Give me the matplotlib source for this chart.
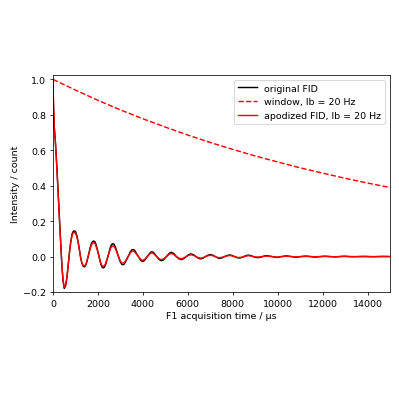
import numpy as np
import matplotlib
matplotlib.use("Agg")
import matplotlib.pyplot as plt

# ── Data ─────────────────────────────────────────────────────────────────────
# acquisition time points (µs)
time_us = [
    0, 20, 50, 100, 150, 200, 250, 300, 350, 400, 450, 500,
    560, 620, 680, 730, 790, 850, 905, 960,
    1015, 1070, 1125, 1175, 1230, 1280, 1335, 1390,
    1445, 1495, 1550, 1600, 1655, 1710, 1760, 1815,
    1870, 1920, 1975, 2030, 2080, 2135, 2185, 2240,
    2295, 2345, 2400, 2455, 2510, 2560, 2615, 2670,
    2725, 2780, 2835, 2890, 2945, 3000, 3055, 3110,
    3165, 3220, 3275, 3335, 3390, 3445, 3500, 3560,
    3615, 3670, 3720, 3775, 3830, 3880, 3935, 3990,
    4040, 4095, 4145, 4195, 4250, 4300, 4350, 4400,
    4455, 4510, 4560, 4615, 4670, 4720, 4775, 4830,
    4885, 4940, 4995, 5050, 5105, 5160, 5215, 5270,
    5380, 5490, 5600, 5710, 5820, 5930, 6040, 6140,
    6250, 6360, 6470, 6570, 6680, 6790, 6900, 7000,
    7110, 7220, 7320, 7420, 7530, 7640, 7750, 7860,
    7970, 8080, 8180, 8280, 8390, 8500, 8600, 8700,
    8800, 8910, 9010, 9110, 9220, 9330, 9430, 9530,
    9745, 9960, 10175, 10390, 10605, 10820, 11035, 11250,
    11465, 11680, 11895, 12110, 12325, 12540, 12755, 12970,
    13185, 13400, 13615, 13830, 14045, 14260, 14475, 14690,
    14905, 15000,
]

original_fid = [
    1.00, 0.86, 0.74, 0.66, 0.56, 0.44, 0.31, 0.18, 0.06, -0.06, -0.14, -0.18,
    -0.165, -0.12, -0.045, 0.02, 0.085, 0.128, 0.143, 0.145,
    0.138, 0.115, 0.08, 0.04, -0.005, -0.035, -0.053, -0.058,
    -0.052, -0.035, -0.008, 0.02, 0.05, 0.073, 0.085, 0.088,
    0.083, 0.066, 0.04, 0.01, -0.02, -0.045, -0.06, -0.064,
    -0.059, -0.044, -0.02, 0.005, 0.032, 0.055, 0.069, 0.073,
    0.068, 0.053, 0.032, 0.01, -0.012, -0.031, -0.043, -0.046,
    -0.043, -0.032, -0.017, -0.002, 0.013, 0.027, 0.037, 0.040,
    0.037, 0.028, 0.016, 0.006, -0.006, -0.017, -0.025, -0.027,
    -0.025, -0.018, -0.009, 0.0, 0.009, 0.018, 0.025, 0.027,
    0.025, 0.018, 0.009, 0.0, -0.008, -0.016, -0.021, -0.023,
    -0.021, -0.016, -0.008, 0.0, 0.008, 0.016, 0.022, 0.024,
    0.017, 0.0, -0.012, -0.017, -0.012, 0.0, 0.011, 0.015,
    0.011, 0.0, -0.009, -0.013, -0.009, 0.0, 0.008, 0.011,
    0.008, 0.0, -0.007, -0.010, -0.007, 0.0, 0.006, 0.009,
    0.006, 0.0, -0.006, -0.008, -0.006, 0.0, 0.006, 0.008,
    0.006, 0.0, -0.004, -0.006, -0.004, 0.0, 0.004, 0.005,
    0.0, -0.005, 0.0, 0.004, 0.0, -0.004, 0.0, 0.003,
    0.0, -0.003, 0.0, 0.002, 0.0, -0.002, 0.0, 0.002,
    0.0, -0.001, 0.0, 0.001, 0.0, -0.001, 0.0, 0.001,
    0.0, 0.0,
]

apodized_fid = [
    1.00, 0.86, 0.74, 0.66, 0.55, 0.43, 0.30, 0.175, 0.058, -0.058, -0.135, -0.174,
    -0.159, -0.115, -0.043, 0.019, 0.080, 0.121, 0.135, 0.136,
    0.129, 0.107, 0.074, 0.037, -0.005, -0.032, -0.048, -0.053,
    -0.047, -0.032, -0.007, 0.018, 0.045, 0.065, 0.076, 0.078,
    0.073, 0.058, 0.035, 0.009, -0.018, -0.039, -0.052, -0.055,
    -0.051, -0.038, -0.017, 0.004, 0.027, 0.046, 0.057, 0.060,
    0.056, 0.043, 0.026, 0.008, -0.010, -0.025, -0.035, -0.037,
    -0.035, -0.026, -0.014, -0.002, 0.010, 0.021, 0.029, 0.031,
    0.029, 0.022, 0.012, 0.005, -0.005, -0.013, -0.019, -0.021,
    -0.019, -0.014, -0.007, 0.0, 0.007, 0.014, 0.019, 0.020,
    0.019, 0.013, 0.007, 0.0, -0.006, -0.012, -0.016, -0.017,
    -0.015, -0.012, -0.006, 0.0, 0.006, 0.012, 0.016, 0.017,
    0.012, 0.0, -0.009, -0.012, -0.008, 0.0, 0.008, 0.010,
    0.007, 0.0, -0.006, -0.009, -0.006, 0.0, 0.005, 0.007,
    0.005, 0.0, -0.005, -0.006, -0.004, 0.0, 0.004, 0.006,
    0.004, 0.0, -0.004, -0.005, -0.004, 0.0, 0.003, 0.005,
    0.003, 0.0, -0.002, -0.003, -0.002, 0.0, 0.002, 0.003,
    0.0, -0.003, 0.0, 0.002, 0.0, -0.002, 0.0, 0.001,
    0.0, -0.001, 0.0, 0.001, 0.0, -0.001, 0.0, 0.001,
    0.0, 0.0, 0.0, 0.0, 0.0, 0.0, 0.0, 0.0,
    0.0, 0.0,
]

# exponential window, lb = 20 Hz
window_time_us = [0, 1000, 2000, 3000, 4000, 5000, 6000, 7000, 8000,
                  9000, 10000, 11000, 12000, 13000, 14000, 15000]
window_values = [1.0, 0.940, 0.882, 0.828, 0.778, 0.731, 0.686, 0.644, 0.605,
                 0.568, 0.534, 0.501, 0.471, 0.442, 0.415, 0.390]

# ── Plot ─────────────────────────────────────────────────────────────────────
FIG_IN = 5.85
fig = plt.figure(figsize=(FIG_IN, FIG_IN), dpi=400 / FIG_IN)
ax = fig.add_axes([0.1325, 0.2675, 0.8425, 0.5425])

ax.plot(time_us, original_fid, color='k', label="original FID")
ax.plot(window_time_us, window_values, color='r', linestyle='--',
        label="window, lb = 20 Hz")
ax.plot(time_us, apodized_fid, color='r', label="apodized FID, lb = 20 Hz")

ax.set_xlim(0, 15000)
ax.set_ylim(-0.2, 1.025)
ax.set_xlabel("F1 acquisition time / µs")
ax.set_ylabel("Intensity / count")
ax.legend(loc='upper right')

fig.savefig("out.png", dpi=400 / FIG_IN)
